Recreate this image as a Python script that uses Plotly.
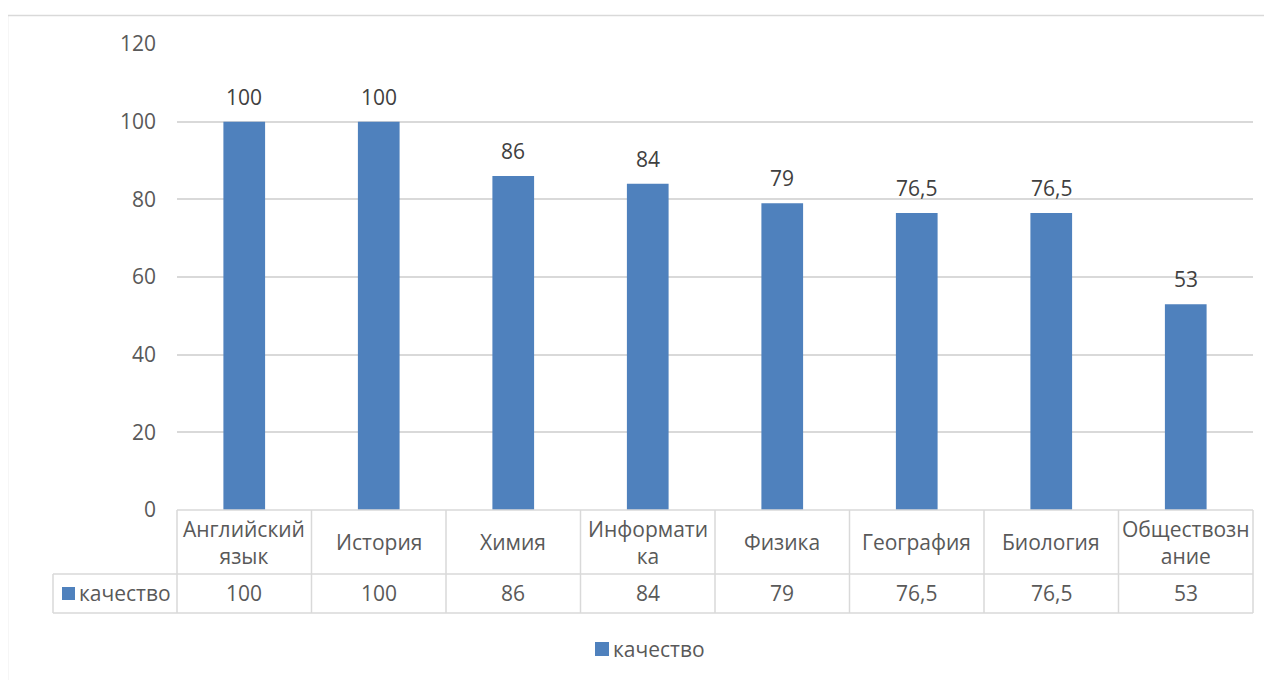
import plotly.graph_objects as go

categories = ["Английский<br>язык", "История", "Химия", "Информати<br>ка",
              "Физика", "География", "Биология", "Обществозн<br>ание"]
values = [100, 100, 86, 84, 79, 76.5, 76.5, 53]
value_labels = ["100", "100", "86", "84", "79", "76,5", "76,5", "53"]
series_name = "качество"
y_ticks = [0, 20, 40, 60, 80, 100, 120]

BAR = "#4f81bd"
TXT = "#595959"
GRID = "#d9d9d9"
FONT = "Open Sans"
FS = 21

OFF = 8  # page body margin
W, H = 1272, 680
ML, MT = 177 - OFF, 44 - OFF
PW, PH = 1076, 466
MR = W - ML - PW
MB = H - MT - PH

def px_x(p):
    return (p - OFF - ML) / PW

def px_y(p):
    return (MT + PH - (p - OFF)) / PH

n = len(categories)
idx = list(range(n))

fig = go.Figure()
fig.add_trace(go.Bar(
    x=idx, y=values, name=series_name, marker_color=BAR,
    marker_line_width=0, hoverinfo="skip", showlegend=False,
))

annotations = []
# data labels
for i, v, lab in zip(idx, values, value_labels):
    annotations.append(dict(x=i, y=v, xref="x", yref="y", text=lab,
                            showarrow=False, yanchor="middle", yshift=25,
                            font=dict(family=FONT, size=FS, color="#404040")))

# table: header row and value row
y_head = px_y(542)
y_val = px_y(593)
for i, c, lab in zip(idx, categories, value_labels):
    xp = (i + 0.5) / n
    annotations.append(dict(x=xp, y=y_head, xref="paper", yref="paper", text=c,
                            showarrow=False, xanchor="center", yanchor="middle",
                            font=dict(family=FONT, size=FS, color=TXT)))
    annotations.append(dict(x=xp, y=y_val, xref="paper", yref="paper", text=lab,
                            showarrow=False, xanchor="center", yanchor="middle",
                            font=dict(family=FONT, size=FS, color=TXT)))
annotations.append(dict(x=px_x(77), y=y_val, xref="paper", yref="paper",
                        text=series_name, showarrow=False, xanchor="left",
                        yanchor="middle", font=dict(family=FONT, size=FS, color=TXT)))
# legend
annotations.append(dict(x=px_x(611), y=px_y(649), xref="paper", yref="paper",
                        text=series_name, showarrow=False, xanchor="left",
                        yanchor="middle", font=dict(family=FONT, size=FS, color=TXT)))

shapes = []
line = dict(color=GRID, width=1.5)
y_top = 0
y_mid = px_y(574)
y_bot = px_y(613)
x_left = px_x(53)
for k in range(n + 1):
    shapes.append(dict(type="line", xref="paper", yref="paper",
                       x0=k / n, x1=k / n, y0=y_top, y1=y_bot, line=line))
shapes.append(dict(type="line", xref="paper", yref="paper",
                   x0=x_left, x1=x_left, y0=y_mid, y1=y_bot, line=line))
shapes.append(dict(type="line", xref="paper", yref="paper",
                   x0=x_left, x1=1, y0=y_mid, y1=y_mid, line=line))
shapes.append(dict(type="line", xref="paper", yref="paper",
                   x0=x_left, x1=1, y0=y_bot, y1=y_bot, line=line))
shapes.append(dict(type="line", xref="paper", yref="paper",
                   x0=0, x1=1, y0=0, y1=0, line=line))
# legend keys
shapes.append(dict(type="rect", xref="paper", yref="paper",
                   x0=px_x(62), x1=px_x(75), y0=px_y(600), y1=px_y(587),
                   fillcolor=BAR, line=dict(width=0)))
shapes.append(dict(type="rect", xref="paper", yref="paper",
                   x0=px_x(595), x1=px_x(609), y0=px_y(656), y1=px_y(642),
                   fillcolor=BAR, line=dict(width=0)))
# outer chart border
shapes.append(dict(type="rect", xref="paper", yref="paper",
                   x0=px_x(7.5), x1=px_x(1300), y0=px_y(720), y1=px_y(15.5),
                   line=dict(color=GRID, width=1.5), fillcolor="rgba(0,0,0,0)"))

fig.update_layout(
    width=W, height=H,
    margin=dict(l=ML, r=MR, t=MT, b=MB),
    paper_bgcolor="white", plot_bgcolor="white",
    bargap=0.69,
    showlegend=False,
    xaxis=dict(range=[-0.5, n - 0.5], showticklabels=False, showgrid=False,
               zeroline=False, showline=False, ticks=""),
    yaxis=dict(range=[0, 120], tickvals=y_ticks, showgrid=True,
               gridcolor=GRID, gridwidth=1.5, zeroline=False, showline=False,
               ticks="", ticklabelstandoff=20,
               tickfont=dict(family=FONT, size=FS, color=TXT)),
    annotations=annotations,
    shapes=shapes,
)

fig.write_html("out.html")
